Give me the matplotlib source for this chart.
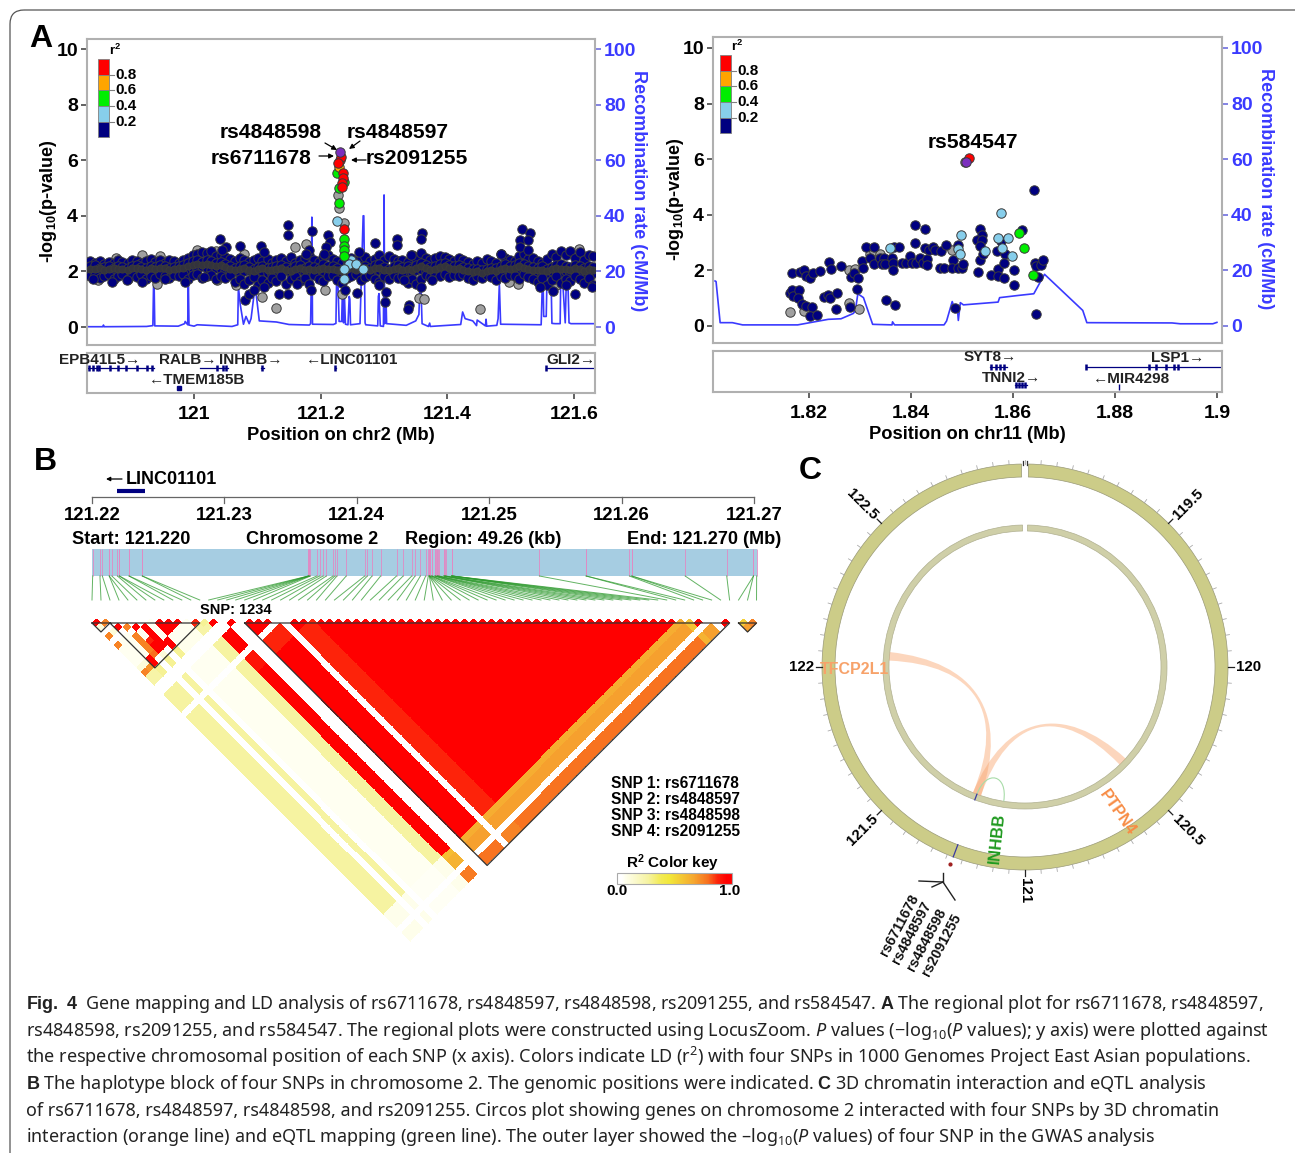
# -*- coding: utf-8 -*-
#Gene mapping figure: regional plots (A), LD heatmap (B), circos plot (C)
import numpy as np
import matplotlib
matplotlib.use('Agg')
import matplotlib.pyplot as plt
from matplotlib.colors import LinearSegmentedColormap
from matplotlib.patches import Wedge, PathPatch, FancyBboxPatch, Rectangle
from matplotlib.path import Path

W, H = 1295, 1153
plt.rcParams['font.family'] = ['Liberation Sans', 'DejaVu Sans']
plt.rcParams['mathtext.fontset'] = 'custom'
plt.rcParams['mathtext.rm'] = 'Noto Sans'
plt.rcParams['mathtext.it'] = 'Noto Sans:italic'
plt.rcParams['mathtext.bf'] = 'Liberation Sans:bold'
plt.rcParams['mathtext.default'] = 'regular'

#panel A, chr2: the dense band of SNPs
band_x = [120.836,120.843,120.851,120.858,120.865,120.873,120.880,120.887,120.895,120.902,
    120.910,120.917,120.924,120.932,120.939,120.946,120.954,120.961,120.968,120.976,
    120.983,120.991,120.998,121.005,121.013,121.020,121.027,121.035,121.042,121.049,
    121.057,121.064,121.072,121.079,121.086,121.094,121.101,121.108,121.116,121.123,
    121.130,121.138,121.145,121.153,121.160,121.167,121.175,121.182,121.189,121.197,
    121.204,121.211,121.219,121.226,121.234,121.241,121.248,121.256,121.263,121.270,
    121.278,121.285,121.292,121.300,121.307,121.315,121.322,121.329,121.337,121.344,
    121.351,121.359,121.366,121.373,121.381,121.388,121.396,121.403,121.410,121.418,
    121.425,121.432,121.440,121.447,121.454,121.462,121.469,121.477,121.484,121.491,
    121.499,121.506,121.513,121.521,121.528,121.535,121.543,121.550,121.558,121.565,
    121.572,121.580,121.587,121.594,121.602,121.609,121.616,121.624,121.630]
band_mid_a = [2.18,2.22,2.12,2.17,2.2,2.14,2.21,2.16,2.12,2.19,
    2.24,2.17,2.13,2.2,2.15,2.22,2.18,2.12,2.16,2.21,
    2.23,2.3,2.36,2.4,2.33,2.42,2.38,2.3,2.35,2.26,
    2.2,2.14,2.18,2.23,2.15,2.1,2.17,2.2,2.12,2.16,
    2.19,2.24,2.15,2.1,2.18,2.22,2.14,2.2,2.16,2.12,
    2.25,2.18,2.2,2.14,2.05,2.2,2.28,2.12,2.16,2.2,
    2.14,2.22,2.26,2.15,2.1,2.18,2.22,2.15,2.2,2.12,
    2.24,2.3,2.22,2.16,2.2,2.26,2.3,2.24,2.18,2.22,
    2.16,2.12,2.08,2.1,2.05,2.1,2.14,2.12,2.2,2.25,
    2.18,2.22,2.3,2.26,2.2,2.15,2.12,2.18,2.1,2.15,
    2.22,2.26,2.2,2.15,2.24,2.18,2.12,2.2,2.16]
band_mid_b = [2.02,1.98,2.05,1.96,2.0,2.06,1.97,2.03,2.0,1.94,
    2.02,2.06,1.98,1.95,2.03,1.99,2.06,1.97,2.02,1.96,
    2.05,2.08,2.14,2.1,2.18,2.12,2.06,2.14,2.08,2.02,
    1.98,2.03,1.94,2.0,2.05,1.92,1.98,2.03,1.96,1.9,
    2.02,1.97,2.04,1.93,1.99,2.05,1.96,2.01,1.94,2.03,
    1.98,2.05,1.92,1.98,1.9,2.02,2.08,1.95,2.0,2.04,
    1.97,2.02,2.05,1.94,1.99,2.04,1.96,2.01,1.93,1.98,
    2.04,2.08,2.0,1.95,2.02,2.06,2.1,2.04,1.98,2.02,
    1.96,1.92,1.9,1.94,1.88,1.93,1.97,1.95,2.02,2.06,
    1.98,2.03,2.08,2.04,1.97,1.93,1.98,1.92,1.96,2.02,
    2.05,1.98,2.02,1.96,2.04,1.98,1.94,2.0,1.96]
band_top = [2.36,2.32,2.38,2.28,2.34,2.3,2.4,2.35,2.3,2.42,
    2.36,2.3,2.38,2.44,2.35,2.4,2.3,2.42,2.36,2.3,
    2.42,2.5,2.6,2.62,2.7,2.66,2.72,2.56,2.6,2.52,
    2.45,2.38,2.5,2.42,2.34,2.4,2.5,2.36,2.44,2.32,
    2.4,2.48,2.36,2.52,2.3,2.42,2.5,2.58,2.42,2.34,
    2.52,2.6,2.46,2.36,2.3,2.42,2.48,2.36,2.44,2.52,
    2.36,2.46,2.58,2.4,2.56,2.44,2.36,2.42,2.34,2.58,
    2.46,2.66,2.5,2.42,2.48,2.55,2.52,2.46,2.38,2.5,
    2.4,2.34,2.28,2.36,2.3,2.44,2.38,2.32,2.62,2.5,
    2.42,2.36,2.56,2.62,2.44,2.5,2.38,2.32,2.44,2.62,
    2.52,2.72,2.6,2.72,2.5,2.68,2.42,2.6,2.55]
band_low = [1.82,1.88,1.78,1.85,1.92,1.74,1.84,1.9,1.72,1.86,
    1.8,1.9,1.74,1.84,1.78,1.92,1.85,1.76,1.88,1.82,
    1.9,1.74,1.86,1.92,1.78,1.84,1.88,1.72,1.82,1.78,
    1.86,1.62,1.74,1.55,1.68,1.8,1.52,1.7,1.58,1.78,
    1.66,1.84,1.56,1.72,1.84,1.66,1.78,1.56,1.88,1.72,
    1.64,1.82,1.88,1.7,1.6,1.76,1.82,1.9,1.7,1.8,
    1.86,1.72,1.62,1.84,1.72,1.88,1.78,1.84,1.6,1.74,
    1.56,1.72,1.88,1.8,1.9,1.84,1.92,1.8,1.88,1.82,
    1.9,1.78,1.7,1.82,1.75,1.86,1.8,1.7,1.84,1.78,
    1.88,1.82,1.72,1.9,1.8,1.74,1.62,1.78,1.52,1.7,
    1.84,1.6,1.74,1.66,1.82,1.72,1.6,1.78,1.5]
#overlapping dots in the middle of the band read as dark grey
band_core = [2.1,2.08,2.12,2.06,2.1,2.13,2.07,2.1,2.05,2.11,
    2.13,2.09,2.06,2.12,2.08,2.11,2.14,2.06,2.09,2.12,
    2.14,2.18,2.24,2.26,2.22,2.28,2.24,2.2,2.24,2.16,
    2.1,2.06,2.08,2.13,2.05,2.02,2.08,2.11,2.04,2.06,
    2.1,2.14,2.06,2.02,2.09,2.13,2.05,2.1,2.06,2.08,
    2.12,2.1,2.08,2.04,2.0,2.1,2.16,2.04,2.08,2.12,
    2.05,2.12,2.14,2.05,2.04,2.1,2.12,2.06,2.1,2.04,
    2.14,2.18,2.12,2.06,2.1,2.16,2.2,2.14,2.08,2.12,
    2.06,2.02,1.98,2.02,1.96,2.02,2.05,2.03,2.1,2.14,
    2.08,2.12,2.18,2.14,2.08,2.04,2.05,2.06,2.03,2.08,
    2.12,2.1,2.1,2.06,2.14,2.08,2.03,2.1,2.06]

#panel A, chr2: everything away from the band
navy1_x = [121.149,121.149,121.186,121.041,121.05,121.044,121.073,121.106,121.11,121.211,
    121.215,121.208,121.205,121.285,121.321,121.321,121.36,121.358,121.517,121.53,
    121.514,121.527,121.514,121.527,121.484,121.26,121.343,121.182,121.176,
    120.84,120.87,120.894,120.918,120.954,120.986,121.015,121.081,121.086,121.095,
    121.111,121.134,121.149,121.163,121.184,121.238,121.258,121.292,121.303,121.302,
    121.339,121.337,121.358,121.331,121.376,121.601,121.628,121.566,121.588,121.546]
navy1_y = [3.67,3.3,3.46,3.18,2.88,2.76,2.93,2.91,2.7,3.3,
    3.07,2.88,2.64,3.03,3.16,2.94,3.37,3.15,3.51,3.37,
    3.13,3.13,2.88,2.76,2.64,2.7,2.58,2.76,2.64,
    1.74,1.62,1.68,1.62,1.74,1.62,1.8,0.96,1.2,1.32,
    1.44,1.2,1.18,1.56,1.32,1.32,1.23,1.5,1.26,0.9,
    0.78,0.66,1.44,1.68,1.68,1.18,1.44,1.3,1.5,1.44]
grey1_x = [120.849,120.876,120.918,120.947,120.941,121.005,121.034,121.079,121.108,121.13,
    121.159,121.177,121.207,121.236,121.234,121.227,121.229,121.355,121.363,121.452,
    121.512,121.498,121.608,121.572,121.036,121.066,120.93,121.012,121.29,121.4]
grey1_y = [1.68,2.5,2.6,2.55,1.56,2.76,2.74,2.64,1.08,0.7,
    2.86,2.98,1.32,3.73,1.2,4.75,4.29,1.05,1.0,0.63,
    1.56,1.62,2.79,1.5,1.68,1.5,2.1,2.55,2.1,2.05]
red1_x = [121.236,121.235,121.235,121.233,121.234,121.231,121.232,121.227]
red1_y = [3.51,5.53,5.35,5.17,5.02,5.99,6.13,5.89]
orange1_x = [121.229]
orange1_y = [5.77]
green1_x = [121.226,121.236,121.229,121.229,121.237,121.237,121.237,121.237]
green1_y = [5.53,5.23,5.01,4.45,3.18,2.91,2.76,2.55]
blue1_x = [121.225,121.247,121.245,121.256,121.267,121.237,121.236]
blue1_y = [3.82,2.4,2.26,2.26,2.08,2.1,1.74]
lead1_x = [121.231]
lead1_y = [6.31]

recomb1_x = [120.831,120.856,120.857,120.858,120.925,120.935,120.936,120.937,120.938,120.975,
    120.985,120.986,120.99,120.991,120.992,121.0,121.005,121.06,121.069,121.07,
    121.073,121.078,121.082,121.087,121.09,121.096,121.098,121.103,121.13,121.15,
    121.182,121.184,121.185,121.186,121.187,121.22,121.224,121.225,121.227,121.229,
    121.233,121.235,121.236,121.237,121.239,121.243,121.245,121.246,121.247,121.262,
    121.267,121.268,121.27,121.271,121.29,121.291,121.292,121.294,121.299,121.3,
    121.301,121.302,121.303,121.304,121.335,121.35,121.355,121.357,121.358,121.36,
    121.37,121.372,121.373,121.421,121.424,121.428,121.44,121.446,121.447,121.46,
    121.461,121.462,121.478,121.48,121.482,121.484,121.548,121.55,121.551,121.552,
    121.556,121.557,121.562,121.564,121.565,121.57,121.578,121.579,121.581,121.586,
    121.588,121.59,121.592,121.595,121.633]
recomb1_y = [0.1,0.1,0.7,0.1,0.2,0.5,14.5,14.8,0.4,0.3,
    1.2,2.0,0.8,17,0.7,0.3,0.8,0.2,0.8,14.5,
    8,1,3.8,1.2,3,14,12,2.2,1.8,0.9,
    0.7,1.2,15,39.5,1,0.9,1.3,16.5,17,2,
    2,19,1.5,14,1,0.8,11,10,0.8,1.2,
    40,40,1.5,0.8,0.4,11,12,0.4,0.2,47.5,
    1.2,11.5,11,1.2,0.6,2.2,4.5,17,16,1.2,
    0.2,1.4,0.2,0.9,5.4,3,2.2,0.5,2.5,0.4,
    2.8,0.3,0.6,3,15.6,1,0.8,17,17,3.8,
    3.8,15,13,13,1.3,1.2,1.2,20,20,1.5,
    19,18,1.5,1.2,1.2]

#panel A, chr11
navy2_x = [1.8166,1.8182,1.819,1.8194,1.8202,1.8209,1.8221,1.824,1.8244,1.8263,
    1.8283,1.8289,1.8296,1.8295,1.8304,1.8307,1.8312,1.8328,1.8319,1.8327,
    1.8339,1.8347,1.8343,1.835,1.8363,1.8364,1.8365,1.8367,1.8376,1.8383,
    1.8391,1.8399,1.8403,1.8411,1.8417,1.8423,1.8431,1.8432,1.8408,1.8428,
    1.8408,1.8428,1.8435,1.8443,1.8447,1.8459,1.8469,1.8457,1.8465,1.8483,
    1.8481,1.8493,1.8487,1.8493,1.8501,1.8503,1.8535,1.8539,1.853,1.8539,
    1.8535,1.8535,1.8541,1.8531,1.8558,1.8571,1.8571,1.8583,1.8577,1.8569,
    1.8585,1.8582,1.8603,1.8602,1.8618,1.8642,1.8645,1.8643,1.8645,1.8655,
    1.8659,1.865,1.8162,1.8166,1.8168,1.818,1.8178,1.8186,1.8194,1.8206,
    1.8202,1.8216,1.823,1.8238,1.8242,1.8255,1.8253,1.8281,1.8352,1.8368]
navy2_y = [1.92,1.96,2.0,1.8,1.74,1.9,1.98,2.32,2.04,2.16,
    1.76,1.9,1.72,1.32,2.34,2.08,2.84,2.84,2.46,2.22,
    2.44,2.44,2.22,2.24,2.46,2.28,2.02,2.84,2.84,2.28,
    2.28,2.52,2.28,2.28,2.46,2.28,2.4,2.2,3.64,3.5,
    3.0,2.8,2.72,2.84,2.72,2.68,2.92,2.08,2.08,2.36,
    2.08,2.92,0.64,2.08,2.08,2.24,3.48,3.26,3.1,3.08,
    2.88,2.36,2.58,1.94,1.82,2.04,1.8,1.74,3.06,2.68,
    2.58,2.28,2.02,1.48,3.44,4.88,0.44,2.28,2.16,2.18,
    2.36,1.78,1.2,1.28,1.08,1.3,1.02,0.78,0.72,0.68,
    0.36,0.4,1.06,1.12,1.02,1.18,0.6,0.68,0.92,0.77]
grey2_x = [1.8162,1.819,1.8279,1.8299,1.8279,1.8291,1.8319,1.8328,1.8339,1.8481,1.8507]
grey2_y = [0.52,0.54,0.82,0.62,2.0,2.06,2.6,2.7,2.58,2.75,5.9]
blue2_x = [1.836,1.8499,1.8493,1.8497,1.8577,1.857,1.8591,1.8579,1.8598,1.8545]
blue2_y = [2.82,3.29,2.76,2.58,4.08,3.18,3.18,2.8,2.52,2.68]
green2_x = [1.8611,1.8621,1.8639]
green2_y = [3.34,2.8,1.84]
red2_x = [1.8513]
red2_y = [6.04]
lead2_x = [1.8509]
lead2_y = [5.9]

recomb2_x = [1.8016,1.8018,1.8026,1.805,1.807,1.8178,1.8238,1.8263,1.8287,1.8291,
    1.8296,1.8307,1.8325,1.8363,1.8364,1.8368,1.8419,1.8465,1.847,1.8481,
    1.8485,1.8491,1.8493,1.8497,1.8503,1.8571,1.8574,1.8611,1.8641,1.8662,
    1.8737,1.8745,1.8912,1.8928,1.8992,1.9]
recomb2_y = [16.2,16,1.2,1.2,0.4,0.4,2.4,2.6,4.5,5.4,
    11.6,10.2,0.6,0.4,1.5,0.4,0.4,0.4,1.8,8.8,
    6.6,6.8,2,8.4,7.6,8.6,10.2,11,11.6,18.6,
    5.6,1.2,1.1,0.8,0.8,1.3]

#gene tracks: name, start, end, exons
genes1 = [('EPB41L5', 120.831, 120.936, [120.834,120.841,120.846,120.85,120.868,120.88,120.892,120.91,120.925,120.934]),
    ('RALB', 121.01, 121.053, [121.036,121.045,121.051]),
    ('INHBB', 121.105, 121.11, [121.107]),
    ('LINC01101', 121.222, 121.224, [121.223]),
    ('GLI2', 121.555, 121.633, [121.555])]
genes2 = [('SYT8', 1.8556, 1.8588, [1.8558,1.8566,1.8574,1.8582]),
    ('LSP1', 1.8744, 1.9012, [1.8744,1.8866,1.888,1.89,1.8915,1.8924])]

#panel B: genomic position of each SNP, kb from 121.22
snp_kb = [0.05,0.6,0.78,1.3,1.3,1.5,1.92,2.07,2.07,2.8,2.8,3.8,3.8,
    16.35,16.35,16.38,16.4,16.42,16.5,16.98,17.2,17.45,17.7,18.2,18.35,18.5,19.2,
    20.6,20.8,21.15,21.8,23.0,23.5,24.15,24.4,24.8,25.2,25.4,
    25.48,25.48,25.48,25.5,25.55,25.65,25.65,25.7,25.9,25.9,25.95,26.08,26.08,26.1,26.2,
    26.58,26.58,26.6,26.65,26.7,27.16,27.16,27.16,27.18,27.2,27.2,
    33.79,37.32,37.32,40.59,40.77,40.77,44.8,47.94,49.96,49.96,50.2]
ld_classes = ['Y','W','P','L','R','S','A','B','C','E']
ld_table = [[0.10,0.00,0.03,0.26,0.28,0.28,0.05,0.05,0.05,0.00],
    [0.00,0.00,0.00,0.00,0.00,0.00,0.00,0.00,0.00,0.00],
    [0.03,0.00,0.03,0.04,0.03,0.03,0.02,0.02,0.02,0.00],
    [0.26,0.00,0.04,1.00,1.00,0.97,0.62,0.66,0.82,0.00],
    [0.28,0.00,0.03,1.00,1.00,0.95,0.68,0.72,0.84,0.00],
    [0.28,0.00,0.03,0.97,0.95,1.00,0.68,0.72,0.80,0.00],
    [0.05,0.00,0.02,0.62,0.68,0.68,1.00,0.60,0.66,0.00],
    [0.05,0.00,0.02,0.66,0.72,0.72,0.60,1.00,0.72,0.00],
    [0.05,0.00,0.02,0.82,0.84,0.80,0.66,0.72,1.00,0.00],
    [0.00,0.00,0.00,0.00,0.00,0.00,0.00,0.00,0.00,0.72]]
snp_class = list('YYYWYWPPPPPYYLLWWRRRRWSSS' + 'R'*41 + 'ABBWCCEEE')
#pairs in the small left and right blocks that differ from the class table
ld_pairs = [(0,1,1.0),(1,2,0.8),(0,4,0.8),(0,6,0.8),(2,4,1.0),(3,5,0.8),(4,6,1.0),(3,7,0.8),
    (3,8,0.8),(3,9,0.8),(3,10,0.8),(3,11,0.85),(5,7,1.0),(5,8,1.0),(5,9,1.0),(5,10,1.0),(5,11,1.0),
    (4,9,0.95),(4,10,1.0),(4,11,1.0),(6,11,1.0),(6,12,1.0),(2,11,1.0),(2,12,1.0),
    (7,8,1.0),(8,9,1.0),(9,10,1.0),(7,9,1.0),(8,10,1.0),(7,10,1.0),(11,12,0.95),(12,13,0.3),
    (6,13,0.3),(6,14,0.3),(4,13,0.3),(4,14,0.3),(2,13,0.3),(2,14,0.3),
    (15,16,1.0),(0,12,0.8),(1,12,0.75),(72,73,0.55),(73,74,0.8)]
ld_blocks = [(0,2),(2,12),(17,71),(72,74)]
ld_axis_ticks = [121.22,121.23,121.24,121.25,121.26,121.27]
ld_axis_labels = ['121.22','121.23','121.24','121.25','121.26','121.27']

#panel C
circos_ticks = [119.5,120,120.5,121,121.5,122,122.5]
circos_labels = ['119.5','120','120.5','121','121.5','122','122.5']
snp_mb = 121.23
links = [(122.03,122.07,'#f9a56e',0.45,0.36),(120.47,120.51,'#f9a56e',0.45,0.38)]
snp_names = ['rs6711678','rs4848597','rs4848598','rs2091255']

caption = [r'$\mathbf{Fig.\ 4}$  Gene mapping and LD analysis of rs6711678, rs4848597, rs4848598, rs2091255, and rs584547. $\mathbf{A}$ The regional plot for rs6711678, rs4848597,',
    r'rs4848598, rs2091255, and rs584547. The regional plots were constructed using LocusZoom. $\mathit{P}$ values (−log$_{10}$($\mathit{P}$ values); y axis) were plotted against',
    r'the respective chromosomal position of each SNP (x axis). Colors indicate LD (r$^{2}$) with four SNPs in 1000 Genomes Project East Asian populations.',
    r'$\mathbf{B}$ The haplotype block of four SNPs in chromosome 2. The genomic positions were indicated. $\mathbf{C}$ 3D chromatin interaction and eQTL analysis',
    r'of rs6711678, rs4848597, rs4848598, and rs2091255. Circos plot showing genes on chromosome 2 interacted with four SNPs by 3D chromatin',
    r'interaction (orange line) and eQTL mapping (green line). The outer layer showed the –log$_{10}$($\mathit{P}$ values) of four SNP in the GWAS analysis']
caption_sizes = [12.85, 13, 13, 13.0, 12.98, 12.98]

NAVY, GREY, LBLUE, GREEN, ORANGE, RED, PURPLE = '#000080', '#a0a0a0', '#87ceeb', '#00ee00', '#ffa500', '#ff0000', '#7b2fbe'
CORE = '#33333d'
RECOMB = '#3a3aff'
SPINE = '#b0b0b0'

fig = plt.figure(figsize=(W/100, H/100), dpi=100)

def px_axes(left, top, right, bottom):
    return fig.add_axes([left/W, 1-bottom/H, (right-left)/W, (bottom-top)/H])

#overlay in picture pixels, for everything that is not on a data axis
over = fig.add_axes([0, 0, 1, 1], zorder=10)
over.set_xlim(0, W)
over.set_ylim(H, 0)
over.axis('off')
over.patch.set_alpha(0)
over.add_patch(FancyBboxPatch((10, 10), W+40, H+40, boxstyle='round,pad=0,rounding_size=14',
                              fc='none', ec='#555555', lw=0.9))

def points(ax, x, y, color, z):
    size = 26 if color == CORE else 46
    ax.scatter(x, y, s=size, c=color, edgecolors='#3a3a3a', linewidths=0.7, zorder=z)

def regional(box, gene_box, left_label_px, xlim, xticks, xlabels, xlabel, recx, recy, groups, genes):
    ax = px_axes(*box[:4])
    ax.set_xlim(*xlim)
    ax.set_ylim(-(box[3]-box[5])/27.8, (box[5]-box[1])/27.8)
    ax.set_yticks([0, 2, 4, 6, 8, 10])
    ax.set_xticks([])
    ax.tick_params(axis='y', length=4.5, width=1.3, color='#555555', pad=2)
    for t in ax.get_yticklabels():
        t.set_fontsize(14)
        t.set_fontweight('bold')
    ax.set_ylabel('-log$_{10}$(p-value)', fontsize=13, fontweight='bold')
    ax.yaxis.set_label_coords((left_label_px-box[0])/(box[2]-box[0]), 0.47)
    for s in ax.spines.values():
        s.set_color(SPINE)
        s.set_linewidth(1.5)
    rax = ax.twinx()
    rax.set_ylim(ax.get_ylim()[0]*10, ax.get_ylim()[1]*10)
    rax.set_yticks([0, 20, 40, 60, 80, 100])
    rax.tick_params(axis='y', length=4.5, width=1.3, color='#7a7ae0', labelcolor=RECOMB, pad=2)
    for t in rax.get_yticklabels():
        t.set_fontsize(14)
        t.set_fontweight('bold')
    rax.set_ylabel('Recombination rate (cM/Mb)', fontsize=13, fontweight='bold', color=RECOMB, rotation=270)
    rax.yaxis.set_label_coords(1.102, 0.505)
    for s in rax.spines.values():
        s.set_visible(False)
    rax.plot(recx, recy, color=RECOMB, lw=1.2, zorder=1)
    #recombination goes under the dots
    ax.set_zorder(rax.get_zorder()+1)
    ax.patch.set_alpha(0)
    for z, (x, y, c) in enumerate(groups):
        points(ax, x, y, c, 3+z)

    gax = px_axes(box[0], gene_box[0], box[2], gene_box[1])
    gax.set_xlim(*xlim)
    gax.set_ylim(1, 0)
    gax.set_yticks([])
    gax.set_xticks(xticks)
    gax.set_xticklabels(xlabels, fontsize=14, fontweight='bold')
    gax.tick_params(axis='x', length=4.5, width=1.3, color='#555555', pad=5)
    gax.set_xlabel(xlabel, fontsize=13.2, fontweight='bold', labelpad=2.5)
    for s in gax.spines.values():
        s.set_color(SPINE)
        s.set_linewidth(1.5)
    for name, start, end, exons in genes:
        gax.plot([start, end], [0.38, 0.38], color=NAVY, lw=0.9)
        gax.plot(exons, [0.38]*len(exons), ls='none', marker='|', ms=5, mew=1.8, color=NAVY)
    return gax

gax1 = regional((87, 39, 595, 345, 0, 327), (353, 393), 59, (120.831, 121.633), [121, 121.2, 121.4, 121.6],
                ['121', '121.2', '121.4', '121.6'], 'Position on chr2 (Mb)', recomb1_x, recomb1_y,
                [(grey1_x, grey1_y, GREY), (band_x, band_mid_b, NAVY), (band_x, band_low, NAVY),
                 (band_x, band_top, NAVY), (band_x, band_mid_a, NAVY), (band_x, band_core, CORE), (navy1_x, navy1_y, NAVY),
                 (blue1_x, blue1_y, LBLUE), (green1_x, green1_y, GREEN), (orange1_x, orange1_y, ORANGE),
                 (red1_x, red1_y, RED), (lead1_x, lead1_y, PURPLE)], genes1)
gax1.plot([120.977], [0.88], marker='s', ms=3, color=NAVY)

gax2 = regional((713, 37, 1222, 343, 0, 326), (351, 392), 686, (1.8012, 1.901), [1.82, 1.84, 1.86, 1.88, 1.9],
                ['1.82', '1.84', '1.86', '1.88', '1.9'], 'Position on chr11 (Mb)', recomb2_x, recomb2_y,
                [(grey2_x, grey2_y, GREY), (navy2_x, navy2_y, NAVY), (blue2_x, blue2_y, LBLUE),
                 (green2_x, green2_y, GREEN), (red2_x, red2_y, RED), (lead2_x, lead2_y, PURPLE)], genes2)
gax2.plot([1.8604, 1.8628], [0.82, 0.82], color=NAVY, lw=0.9)
gax2.plot([1.8606, 1.8612, 1.8618, 1.8624], [0.82]*4, ls='none', marker='|', ms=5, mew=1.8, color=NAVY)
gax2.plot([1.8808], [0.88], marker='|', ms=4, mew=1, color=NAVY)

#r2 legends
for lx, ly in [(98, 59), (720, 55)]:
    for i, c in enumerate([RED, ORANGE, GREEN, LBLUE, NAVY]):
        over.add_patch(Rectangle((lx, ly+i*15.7), 11, 15.7, fc=c, ec='#808080', lw=0.6))
    for i, lab in enumerate(['0.8', '0.6', '0.4', '0.2']):
        over.plot([lx+11, lx+16], [ly+(i+1)*15.7]*2, color='#808080', lw=0.8)
        over.text(lx+17, ly+(i+1)*15.7, lab, fontsize=11, fontweight='bold', va='center')
    over.text(lx+11, ly-9, 'r$^{2}$', fontsize=9.5, fontweight='bold', ha='left', va='center')

#rs labels and arrows of panel A
for txt, x, y in [('rs4848598', 271, 133), ('rs4848597', 398, 133), ('rs6711678', 261, 158),
                  ('rs2091255', 417, 158), ('rs584547', 973, 143)]:
    over.text(x, y, txt, fontsize=15.2, fontweight='bold', ha='center', va='center')
for a, b in [((325, 143), (337, 150)), ((360, 141), (349, 149)), ((319, 156), (334, 156)), ((366, 160), (351, 160))]:
    over.annotate('', xy=b, xytext=a, arrowprops=dict(arrowstyle='-|>', color='black', lw=0.9, mutation_scale=7, shrinkA=0, shrinkB=0))

gene_text = [('EPB41L5→', 100, 360), ('RALB→', 188, 360), ('INHBB→', 251, 360), ('←LINC01101', 352, 360),
             ('GLI2→', 571, 360), ('←TMEM185B', 197, 380), ('SYT8→', 990, 357), ('LSP1→', 1178, 358),
             ('TNNI2→', 1012, 378), ('←MIR4298', 1131, 379)]
for txt, x, y in gene_text:
    over.text(x, y, txt, fontsize=11, fontweight='bold', ha='center', va='center', color='#222222')

#panel B, LD heatmap
n = len(snp_kb)
ld = np.full((n, n), np.nan)
for i in range(n):
    for j in range(i+1, n):
        ld[i, j] = ld_table[ld_classes.index(snp_class[i])][ld_classes.index(snp_class[j])]
for i, j, v in ld_pairs:
    ld[i, j] = v
ld_cmap = LinearSegmentedColormap.from_list('ld', [(0, '#ffffff'), (0.03, '#fffff0'), (0.28, '#f6f3a0'), (0.45, '#f2e83a'),
                                                   (0.7, '#f6a830'), (0.85, '#f8701f'), (1, '#ff0000')])
LDX, LDY, LDD = 92.0, 623.0, 8.98
u, v = np.meshgrid(np.arange(n+1), np.arange(n+1), indexing='ij')
over.pcolormesh(LDX+(u+v-1)/2*LDD, LDY+(v-u-1)/2*LDD, np.ma.masked_invalid(ld), cmap=ld_cmap, vmin=0, vmax=1,
                shading='flat', antialiased=False, linewidth=0)
for a, b in ld_blocks:
    over.plot([LDX+a*LDD, LDX+(a+b)/2*LDD, LDX+b*LDD, LDX+a*LDD],
              [LDY, LDY+(b-a)/2*LDD, LDY, LDY], color='#333333', lw=0.9)

#chromosome strip with SNP lines, and the lines to the heatmap
def kb_px(kb):
    return 92+np.asarray(kb)*13.24
over.add_patch(Rectangle((92, 549), 665, 27, fc='#a6cde2', ec='none'))
over.vlines(kb_px(snp_kb), 549, 576, color='#e08ac4', lw=0.6)
for k, kb in enumerate(snp_kb):
    over.plot([kb_px(kb), LDX+k*LDD], [576, 600], color='#2f9a2f', lw=0.7, alpha=0.75)

#position axis above the strip
over.plot([92, 754], [497, 497], color='#666666', lw=0.9)
for t, lab in zip(ld_axis_ticks, ld_axis_labels):
    tx = kb_px((t-121.22)*1000)
    over.plot([tx, tx], [497, 503], color='#666666', lw=0.9)
    over.text(tx, 515, lab, fontsize=13.4, fontweight='bold', ha='center', va='center')
for txt, x in [('Start: 121.220', 131), ('Chromosome 2', 312), ('Region: 49.26 (kb)', 483), ('End: 121.270 (Mb)', 704)]:
    over.text(x, 539, txt, fontsize=13.1, fontweight='bold', ha='center', va='center')
over.text(171, 480, 'LINC01101', fontsize=13, fontweight='bold', ha='center', va='center')
over.annotate('', xy=(106, 479), xytext=(122, 479), arrowprops=dict(arrowstyle='-|>', color='black', lw=0.9, mutation_scale=6, shrinkA=0, shrinkB=0))
over.plot([117, 145], [491, 491], color=NAVY, lw=3, solid_capstyle='butt')
over.text(236, 610, 'SNP: 1234', fontsize=10.5, fontweight='bold', ha='center', va='center')
for i, name in enumerate(['rs6711678', 'rs4848597', 'rs4848598', 'rs2091255']):
    over.text(611, 783+i*16, 'SNP %d: %s' % (i+1, name), fontsize=11.2, fontweight='bold', va='center')
over.text(673, 863, 'R$^{2}$ Color key', fontsize=11, fontweight='bold', ha='center', va='center')
over.imshow(np.array([[0, 0.1, 0.2, 0.3, 0.4, 0.45, 0.55, 0.65, 0.75, 0.85, 0.95, 1]]), cmap=ld_cmap, vmin=0, vmax=1,
            extent=(617, 732, 884, 873), aspect='auto', interpolation='bilinear')
over.add_patch(Rectangle((617, 873), 115, 11, fc='none', ec='#aaaaaa', lw=0.8))
over.set_xlim(0, W)
over.set_ylim(H, 0)
over.text(617, 891, '0.0', fontsize=11, fontweight='bold', ha='center', va='center')
over.text(730, 891, '1.0', fontsize=11, fontweight='bold', ha='center', va='center')

#panel C, circos
CX, CY = 1025.0, 667.0
def mb_angle(mb):
    return np.radians(90-(np.asarray(mb)-119)*90)
def polar(mb, r):
    a = mb_angle(mb)
    return CX+r*np.cos(a), CY-r*np.sin(a)

over.add_patch(Wedge((CX, CY), 203, 271, 629, width=13, fc='#cccc88', ec='#999977', lw=0.5))
over.add_patch(Wedge((CX, CY), 142, 271, 629, width=6, fc='#cfcfa8', ec='#b0b090', lw=0.5))
for mb in np.arange(119, 123, 0.05):
    x0, y0 = polar(mb, 203)
    x1, y1 = polar(mb, 207)
    over.plot([x0, x1], [y0, y1], color='#aaaaaa', lw=0.6)
over.plot([1023, 1023], [461, 465], color='#333333', lw=0.9)
over.plot([1027, 1027], [461, 465], color='#333333', lw=0.9)
rotations = [45, 0, -45, -90, 45, 0, -45]
for mb, lab, rot in zip(circos_ticks, circos_labels, rotations):
    x0, y0 = polar(mb, 203)
    x1, y1 = polar(mb, 209)
    over.plot([x0, x1], [y0, y1], color='#222222', lw=0.9)
    tx, ty = polar(mb, 209+len(lab)*3.7+3)
    over.text(tx, ty, lab, fontsize=10.8, fontweight='bold', rotation=rot, rotation_mode='anchor', ha='center', va='center')

def ribbon(a, b, c, d, color, alpha, k):
    p0, p1 = polar(a, 136), polar(c, 136)
    p2, p3 = polar(d, 136), polar(b, 136)
    def ctrl(p):
        return CX+(p[0]-CX)*k, CY+(p[1]-CY)*k
    verts = [p0, ctrl(p0), ctrl(p1), p1, p2, ctrl(p2), ctrl(p3), p3, p0]
    codes = [Path.MOVETO, Path.CURVE4, Path.CURVE4, Path.CURVE4, Path.LINETO, Path.CURVE4, Path.CURVE4, Path.CURVE4, Path.CLOSEPOLY]
    over.add_patch(PathPatch(Path(verts, codes), fc=color, ec='none', alpha=alpha))

#the two ribbons cross over at the SNP end, as in the reference
ribbon(links[0][0], links[0][1], snp_mb+0.02, snp_mb-0.02, links[0][2], links[0][3], links[0][4])
ribbon(links[1][0], links[1][1], snp_mb+0.02, snp_mb-0.02, links[1][2], links[1][3], links[1][4])
g0, g1 = polar(snp_mb, 136), polar(121.10, 136)
over.add_patch(PathPatch(Path([g0, (CX+(g0[0]-CX)*0.8, CY+(g0[1]-CY)*0.8), (CX+(g1[0]-CX)*0.8, CY+(g1[1]-CY)*0.8), g1],
                              [Path.MOVETO, Path.CURVE4, Path.CURVE4, Path.CURVE4]), fc='none', ec='#a8dca8', lw=0.8))
for r0, r1 in [(190, 203), (136, 142)]:
    x0, y0 = polar(snp_mb, r0)
    x1, y1 = polar(snp_mb, r1)
    over.plot([x0, x1], [y0, y1], color='#3a3aa0', lw=0.9)
dx, dy = polar(snp_mb, 211)
over.plot([dx], [dy], marker='o', ms=2, color='#a02020')

over.text(855, 670, 'TFCP2L1', fontsize=11.5, fontweight='bold', color='#f7a26a', ha='center', va='center')
over.text(1117, 813, 'PTPN4', fontsize=11.5, fontweight='bold', color='#f78c45', rotation=-55, ha='center', va='center')
over.text(997, 838, 'INHBB', fontsize=11.5, fontweight='bold', color='#1f9a1f', rotation=84, ha='center', va='center')

#snp labels under the ring with their fork
hub = (943, 882)
for end in [(943, 873), (919, 881), (932, 887), (955, 900)]:
    over.plot([hub[0], end[0]], [hub[1], end[1]], color='#222222', lw=1.0)
for name, x, y in zip(snp_names, [899, 912, 927, 942], [925, 933, 940, 945]):
    over.text(x, y, name, fontsize=10.2, fontweight='bold', rotation=62, ha='center', va='center', color='#111111')

#panel letters
for txt, x, y in [('A', 41, 39), ('B', 45, 462), ('C', 810, 471)]:
    over.text(x, y, txt, fontsize=23, fontweight='bold', ha='center', va='center')

#caption
for line, y, size in zip(caption, [1002, 1029, 1055, 1082, 1109, 1135], caption_sizes):
    over.text(26, y+2, line, family='Noto Sans', fontsize=size, color='#222222', va='center', ha='left')

fig.savefig('out.png', dpi=100)
